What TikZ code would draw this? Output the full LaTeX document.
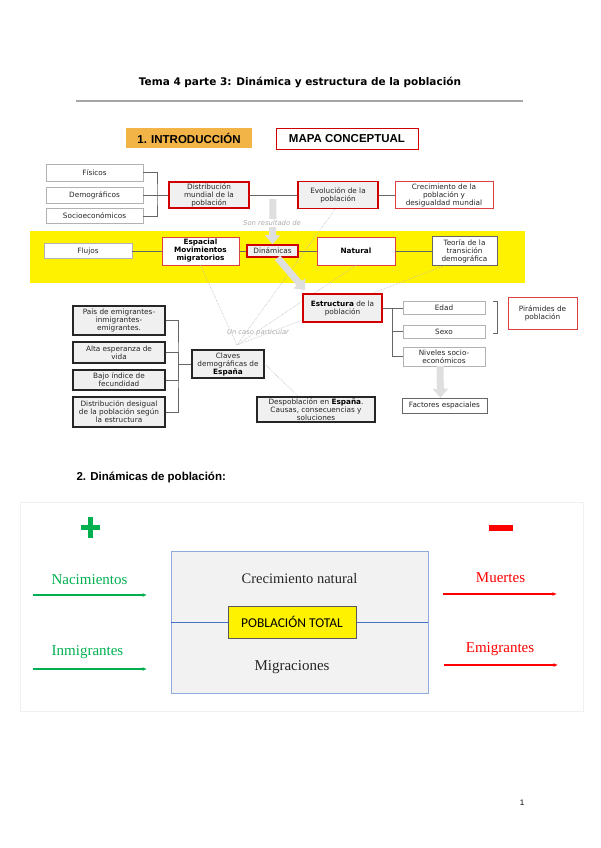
\documentclass[tikz,border=0pt]{standalone}
\usepackage{fontspec}
\setmainfont{Liberation Sans}
\newfontfamily\mapfont{DejaVu Sans}
\newfontfamily\serifont{Liberation Serif}
\newfontfamily\calfont{Carlito}
\usetikzlibrary{arrows.meta}
\definecolor{mapred}{HTML}{D00000}
\definecolor{introorange}{HTML}{F2B347}
\definecolor{masgreen}{HTML}{00B050}
\definecolor{boxblue}{HTML}{8FAADC}
\definecolor{lineblue}{HTML}{4472C4}

\begin{document}
\begin{tikzpicture}[x=1pt,y=-1pt,
  box/.style={draw=gray!60,fill=white,text=black!85,font=\mapfont\fontsize{7.3}{8}\selectfont,align=center,inner sep=0.5pt},
  keybox/.style={box,draw=mapred,line width=1.6pt,fill=gray!12},
  redbox/.style={box,draw=mapred!75,line width=0.6pt},
  blackbox/.style={box,draw=black!85,line width=1.6pt,fill=gray!12},
  tree/.style={black!60,line width=0.5pt},
  dots/.style={gray!55,densely dotted,line width=0.6pt},
  fat/.style={gray!25,line width=7pt,-{Triangle[length=9pt,width=15pt]}},
  note/.style={text=gray!65,font=\mapfont\itshape\fontsize{6.8}{7}\selectfont},
  serif/.style={font=\serifont\fontsize{15}{16}\selectfont},
  flecha/.style={line width=1.2pt,-{Latex[length=4.5pt,width=4pt]}}]
\useasboundingbox (0,0) rectangle (600,848);
\node [font=\mapfont\bfseries\fontsize{10.5}{12}\selectfont] (titulo) at (300,82) {Tema 4 parte 3: Dinámica y estructura de la población};
\draw [gray!70, line width=1.2pt] (76,101) -- (523,101);
\node [fill=introorange, minimum width=126, minimum height=20, font=\bfseries\fontsize{11.5}{12}\selectfont] (intro) at (189,138) {1. INTRODUCCIÓN};
\node [draw=mapred, line width=1pt, minimum width=142, minimum height=20, font=\bfseries\fontsize{11.5}{12}\selectfont] (mapa) at (347,139) {MAPA CONCEPTUAL};

\fill [yellow] (30,231) rectangle (525,283);
\node [box, minimum width=97, minimum height=17] (fisicos) at (94.5,172.5) {Físicos};
\node [box, minimum width=97, minimum height=16] (demograficos) at (94.5,195) {Demográficos};
\node [box, minimum width=97, minimum height=15] (socio) at (94.5,216) {Socioeconómicos};
\node [keybox, minimum width=80, minimum height=26] (distribucion) at (209,195) {Distribución\\mundial de la\\población};
\node [keybox, minimum width=80, minimum height=27] (evolucion) at (338,195) {Evolución de la\\población};
\node [redbox, minimum width=98, minimum height=27] (crecimiento) at (444,195) {Crecimiento de la\\población y\\desigualdad mundial};
\node [box, minimum width=88, minimum height=15] (flujos) at (88,251) {Flujos};
\node [redbox, text=black, minimum width=77, minimum height=28] (espacial) at (200.5,251) {\textbf{Espacial}\\\textbf{Movimientos}\\\textbf{migratorios}};
\node [keybox, minimum width=51, minimum height=12] (dinamicas) at (272.5,251) {Dinámicas};
\node [redbox, text=black, minimum width=78, minimum height=28] (natural) at (356,251) {\textbf{Natural}};
\node [box, draw=gray!80!black, minimum width=65, minimum height=29] (teoria) at (464.5,251) {Teoría de la\\transición\\demográfica};

\coordinate (caso) at (237,345);
\draw [dots] (espacial.south) -- (caso);
\draw [dots] ([xshift=-3]evolucion.south) -- (caso);
\draw [dots] (natural.south) -- (caso);
\draw [dots] ([xshift=-20]teoria.south) -- (caso);
\node [note] (particular) at (258,333) {Un caso particular};

\node [keybox, minimum width=79, minimum height=28] (estructura) at (342.5,308) {\textbf{\color{black}Estructura} de la\\población};
\node [box, minimum width=82, minimum height=13] (edad) at (444,308) {Edad};
\node [box, minimum width=82, minimum height=13] (sexo) at (444,331.5) {Sexo};
\node [box, minimum width=82, minimum height=19] (niveles) at (444,356.5) {Niveles socio-\\económicos};
\node [redbox, minimum width=69, minimum height=32] (piramides) at (542.5,313) {Pirámides de\\población};
\node [box, draw=gray!80!black, minimum width=85, minimum height=15] (factores) at (444.5,405.5) {Factores espaciales};
\node [blackbox, minimum width=92, minimum height=29] (pais) at (119,320.5) {País de emigrantes-\\inmigrantes-\\emigrantes.};
\node [blackbox, minimum width=92, minimum height=21] (alta) at (119,352.5) {Alta esperanza de\\vida};
\node [blackbox, minimum width=92, minimum height=20] (bajo) at (119,380) {Bajo índice de\\fecundidad};
\node [blackbox, minimum width=92, minimum height=30] (desigual) at (119,412) {Distribución desigual\\de la población según\\la estructura};
\node [blackbox, minimum width=72, minimum height=28] (claves) at (228,364) {Claves\\demográficas de\\\textbf{\color{black}España}};
\node [blackbox, minimum width=118, minimum height=25] (despoblacion) at (316,409.5) {Despoblación en \textbf{\color{black}España}.\\Causas, consecuencias y\\soluciones};
\draw [dots] (claves.east) -- ([xshift=-18]despoblacion.north);

\coordinate (b1) at (157,195);
\coordinate (b2) at (392,308);
\coordinate (b3) at (178,364);
\draw [tree] (fisicos.east) -| (b1) |- (socio.east);
\draw [tree] (demograficos.east) -- (distribucion.west);
\draw [tree] (distribucion) -- (evolucion) -- (crecimiento);
\draw [tree] (flujos) -- (espacial) -- (dinamicas) -- (natural) -- (teoria);
\draw [tree] (estructura.east) -- (edad.west);
\draw [tree] (b2) |- (sexo.west);
\draw [tree] (b2) |- (niveles.west);
\draw [tree, line width=0.8pt] ([xshift=8]edad.north east) -- ++(4,0) -- ++(0,32) -- ++(-4,0);
\draw [tree] (pais.east) -| (b3) |- (desigual.east);
\draw [tree] (alta.east) -| (b3);
\draw [tree] (bajo.east) -| (b3);
\draw [tree] (b3) -- (claves.west);

\coordinate (res) at (273,199);
\draw [fat] (res) -- (dinamicas.north);
\node [note, fill=white, inner sep=1pt] (resultado) at (272,223) {Son resultado de};
\draw [fat] ([xshift=5]dinamicas.south) -- ([shift={(3,-3)}]estructura.north west);
\draw [fat] ([xshift=-4]niveles.south) -- ([xshift=-4]factores.north);

\node [anchor=west, font=\bfseries\fontsize{11.5}{12}\selectfont] (dinpob) at (73,477) {2. Dinámicas de población:};
\draw [gray!12] (20,502) rectangle (583,711);
\draw [masgreen, line width=5pt] (81,527) -- (100,527) (90.5,517) -- (90.5,538);
\fill [red] (489,525) rectangle (513,531);
\node [draw=boxblue, fill=gray!10, minimum width=257, minimum height=142] (pobbox) at (299.5,622) {};
\draw [lineblue, line width=0.8pt] (pobbox.west) -- (pobbox.east);
\node [serif, text=black!85, font=\serifont\fontsize{14.5}{16}\selectfont] (crec) at (299.5,579) {Crecimiento natural};
\node [draw=gray!70!black, fill=yellow, line width=0.8pt, minimum width=128, minimum height=32, font=\calfont\fontsize{13.5}{14}\selectfont] (total) at (292,622) {POBLACIÓN TOTAL};
\node [serif, text=black!85] (migraciones) at (292,667) {Migraciones};
\node [serif, text=masgreen] (nacimientos) at (89.5,580) {Nacimientos};
\node [serif, text=masgreen] (inmigrantes) at (87.5,652) {Inmigrantes};
\node [serif, text=red] (muertes) at (500.5,578) {Muertes};
\node [serif, text=red] (emigrantes) at (500,649) {Emigrantes};
\coordinate (nac0) at (33,595); \coordinate (nac1) at (147,595);
\coordinate (inm0) at (33,669); \coordinate (inm1) at (147,669);
\coordinate (mue0) at (443,594); \coordinate (mue1) at (557,594);
\coordinate (emi0) at (444,665); \coordinate (emi1) at (558,665);
\draw [flecha, masgreen] (nac0) -- (nac1);
\draw [flecha, masgreen] (inm0) -- (inm1);
\draw [flecha, red] (mue0) -- (mue1);
\draw [flecha, red] (emi0) -- (emi1);
\node [font=\fontsize{8}{9}\selectfont] (pagina) at (522,803) {1};
\end{tikzpicture}
\end{document}
